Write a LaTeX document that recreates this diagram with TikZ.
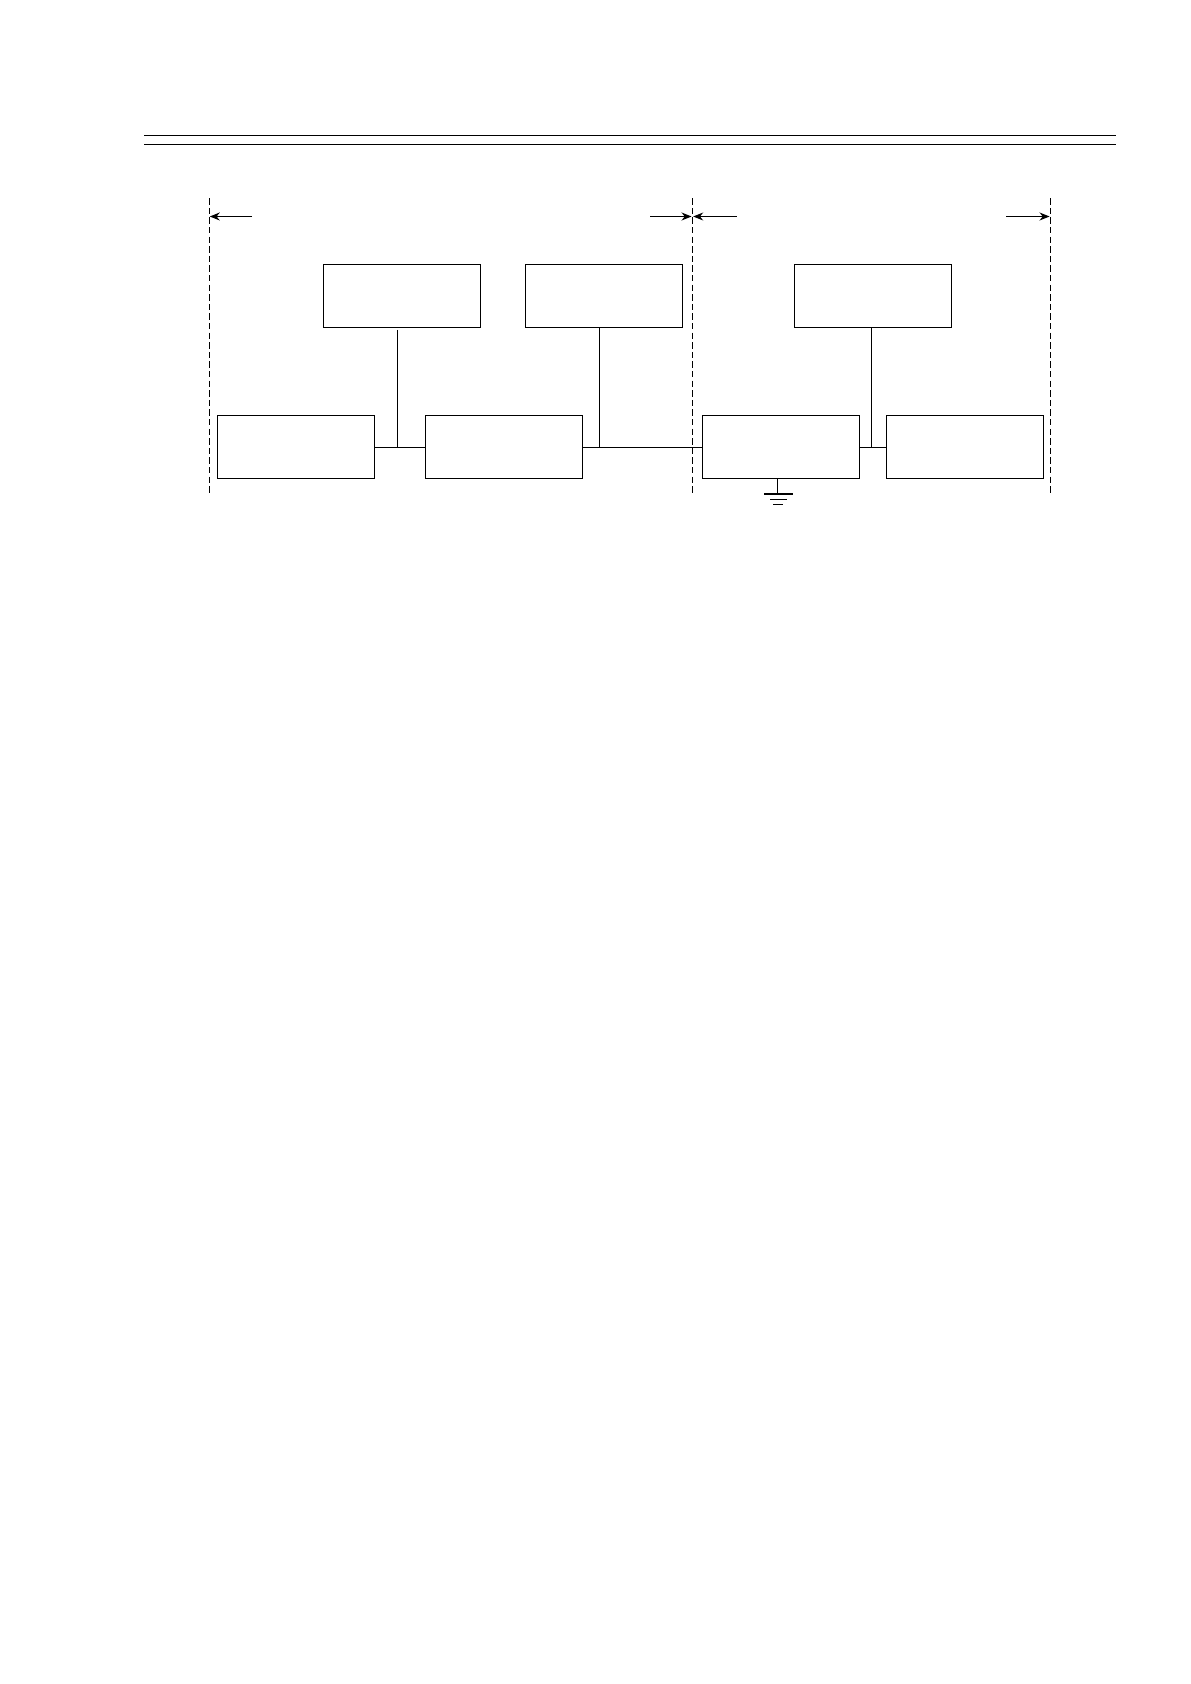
\documentclass[tikz,border=0pt]{standalone}
\usetikzlibrary{arrows.meta}
\begin{document}
\begin{tikzpicture}[x=0.5pt,y=-0.5pt,
  blk/.style={draw,line width=0.55pt,minimum width=78.5pt,minimum height=31.5pt,inner sep=0pt,outer sep=0pt},
  wire/.style={line width=0.55pt},
  rule/.style={line width=0.6pt},
  bound/.style={line width=0.5pt,dash pattern=on 3.2pt off 1.6pt},
  dim/.style={line width=0.5pt,-{Stealth[length=5pt,width=4pt]}}]
\useasboundingbox (0,0) rectangle (1190,1684);
% header rules
\coordinate (r1a) at (144,135.3); \coordinate (r1b) at (1115.7,135.3);
\coordinate (r2a) at (144,144.3); \coordinate (r2b) at (1115.7,144.3);
\draw[rule] (r1a) -- (r1b);
\draw[rule] (r2a) -- (r2b);
% boundaries
\coordinate (d1t) at (209.3,198.3); \coordinate (d1b) at (209.3,494);
\coordinate (d2t) at (692.3,198.3); \coordinate (d2b) at (692.3,494);
\coordinate (d3t) at (1050.3,198.3); \coordinate (d3b) at (1050.3,494);
\draw[bound] (d1t) -- (d1b);
\draw[bound] (d2t) -- (d2b);
\draw[bound] (d3t) -- (d3b);
% dimension arrows
\coordinate (a1s) at (252,216.5); \coordinate (a1e) at (209.8,216.5);
\coordinate (a2s) at (650,216.5); \coordinate (a2e) at (691.5,216.5);
\coordinate (a3s) at (736.7,216.5); \coordinate (a3e) at (693.2,216.5);
\coordinate (a4s) at (1006,216.5); \coordinate (a4e) at (1049.5,216.5);
\draw[dim] (a1s) -- (a1e);
\draw[dim] (a2s) -- (a2e);
\draw[dim] (a3s) -- (a3e);
\draw[dim] (a4s) -- (a4e);
% blocks
\node[blk] (T1) at (402,295.8) {};
\node[blk] (T2) at (603.8,295.8) {};
\node[blk] (T3) at (872.8,295.8) {};
\node[blk] (B1) at (295.8,446.8) {};
\node[blk] (B2) at (503.8,446.8) {};
\node[blk] (B3) at (780.8,446.8) {};
\node[blk] (B4) at (964.8,446.8) {};
% junctions
\coordinate (j1) at (397.3,447.3);
\coordinate (j2) at (599.3,447.3);
\coordinate (j3) at (871.3,447.3);
\coordinate (j1t) at (397.3,330);
\draw[wire] (B1.east |- j1) -- (B2.west |- j1);
\draw[wire] (B2.east |- j2) -- (B3.west |- j2);
\draw[wire] (B3.east |- j3) -- (B4.west |- j3);
\draw[wire] (j1t) -- (j1);
\draw[wire] (T2.south -| j2) -- (j2);
\draw[wire] (T3.south -| j3) -- (j3);
% ground
\coordinate (g0) at (777.3,494);
\coordinate (g1a) at (764,494); \coordinate (g1b) at (792.7,494);
\coordinate (g2a) at (770,499.3); \coordinate (g2b) at (787.3,499.3);
\coordinate (g3a) at (773.3,504.3); \coordinate (g3b) at (782.7,504.3);
\draw[wire] (B3.south -| g0) -- (g0);
\draw[wire] (g1a) -- (g1b);
\draw[wire] (g2a) -- (g2b);
\draw[wire] (g3a) -- (g3b);
\end{tikzpicture}
\end{document}
